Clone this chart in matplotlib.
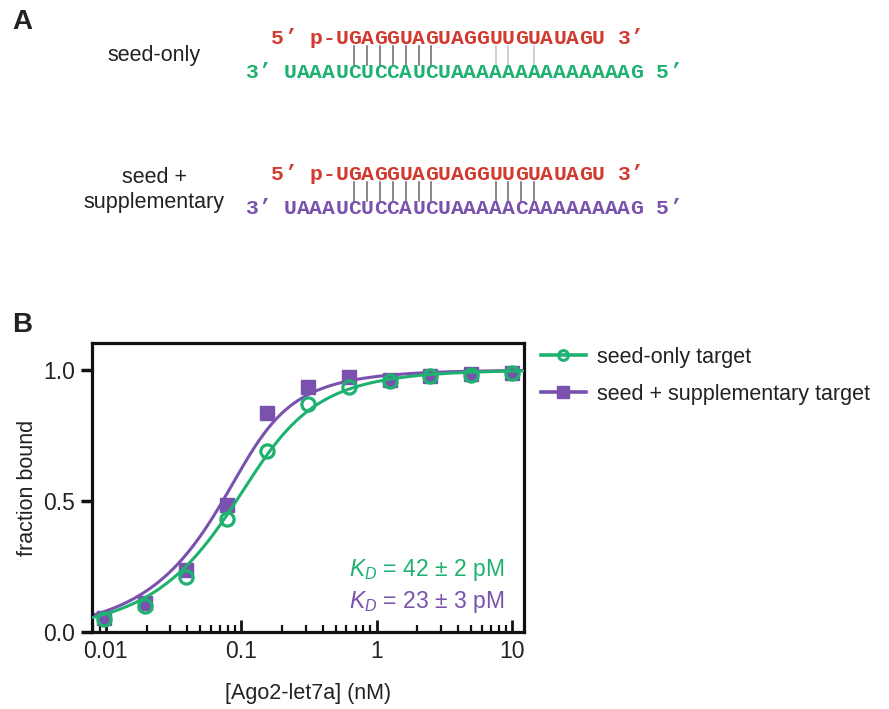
import numpy as np
import matplotlib
matplotlib.use("Agg")
import matplotlib.pyplot as plt
from matplotlib.lines import Line2D

plt.rcParams['font.family'] = ['Liberation Sans', 'DejaVu Sans']
plt.rcParams['mathtext.fontset'] = 'custom'
plt.rcParams['mathtext.rm'] = 'Liberation Sans'
plt.rcParams['mathtext.it'] = 'Liberation Sans:italic'

# ---------------- data ----------------
guide_5p = "5’ p-"
guide_seq = "UGAGGUAGUAGGUUGUAUAGU"
guide_3p = " 3’"
target_seed_only = "UAAAUCUCCAUCUAAAAAAAAAAAAAAG"
target_seed_supp = "UAAAUCUCCAUCUAAAAACAAAAAAAAG"
pairs_seed_only_strong = [2, 3, 4, 5, 6, 7, 8]
pairs_seed_only_weak = [13, 14, 16]
pairs_seed_supp_strong = [2, 3, 4, 5, 6, 7, 8, 13, 14, 15, 16]
row_labels = ["seed-only", "seed +\nsupplementary"]

conc_nM = [0.00977, 0.0195, 0.039, 0.078, 0.156, 0.3125, 0.625, 1.25, 2.5, 5.0, 10.0]
frac_seed_only = [0.05, 0.10, 0.21, 0.43, 0.69, 0.87, 0.935, 0.958, 0.977, 0.981, 0.99]
frac_seed_supp = [0.055, 0.11, 0.237, 0.485, 0.835, 0.935, 0.973, 0.96, 0.977, 0.983, 0.99]
kd_seed_only_nM = 0.042
kd_seed_supp_nM = 0.023
target_conc_nM = 0.1
kd_labels = [r"$K_D$ = 42 ± 2 pM", r"$K_D$ = 23 ± 3 pM"]
series_names = ["seed-only target", "seed + supplementary target"]
xtick_vals = [0.01, 0.1, 1, 10]
xtick_labels = ["0.01", "0.1", "1", "10"]
ytick_vals = [0.0, 0.5, 1.0]
ytick_labels = ["0.0", "0.5", "1.0"]

GREEN = "#1fb170"
PURPLE = "#7a52ae"
RED = "#d23a30"
TXT = "#222222"

W, H = 889, 709
fig = plt.figure(figsize=(W / 100, H / 100), dpi=100)

def fx(px):
    return px / W

def fy(py):
    return 1 - py / H

# ---------------- panel A ----------------
fig.text(fx(12), fy(22), "A", fontsize=20, fontweight="bold", color=TXT, va="center", ha="left")
fig.text(fx(12), fy(325), "B", fontsize=20, fontweight="bold", color=TXT, va="center", ha="left")

fs_seq = 15.4
cw = 0.6 * fs_seq * 100 / 72  # monospace cell width in px
x0 = 271  # left of first guide cell

def draw_string(s, xleft, ypx, color, weight="bold"):
    for i, ch in enumerate(s):
        if ch == " ":
            continue
        fig.text(fx(xleft + (i + 0.5) * cw), fy(ypx), ch, fontsize=fs_seq,
                 family="Liberation Mono", fontweight=weight, color=color,
                 ha="center", va="center")

def draw_pairs(pos_list, ypx, color):
    for g in pos_list:
        col = len(guide_5p) + g - 1
        xc = x0 + (col + 0.5) * cw
        fig.add_artist(Line2D([fx(xc), fx(xc)], [fy(ypx - 9.5), fy(ypx + 9.5)],
                              transform=fig.transFigure, color=color, lw=1.1))

guide_full = guide_5p + guide_seq + guide_3p
rows = [
    (38, 72, target_seed_only, GREEN, pairs_seed_only_strong, pairs_seed_only_weak, 55),
    (174, 208, target_seed_supp, PURPLE, pairs_seed_supp_strong, [], 190),
]
for (yg, yt, tseq, tcol, strong, weak, ylab), lab in zip(rows, row_labels):
    draw_string(guide_full, x0, yg, RED)
    draw_string("3’ " + tseq + " 5’", x0 - 2 * cw, yt, tcol)
    draw_pairs(strong, (yg + yt) / 2 + 0.5, "#666666")
    draw_pairs(weak, (yg + yt) / 2 + 0.5, "#c4c4c4")
    fig.text(fx(154), fy(ylab), lab, fontsize=15.5, color=TXT, ha="center", va="center",
             multialignment="center", linespacing=1.2)

# ---------------- panel B ----------------
ax = fig.add_axes([fx(92), fy(632), (524 - 92) / W, (632 - 343) / H])
ax.set_xscale("log")
ax.set_xlim(0.0079, 12.3)
ax.set_ylim(0, 1.103)

def quad_bound(e, kd, t):
    e = np.asarray(e)
    s = e + t + kd
    return (s - np.sqrt(s * s - 4 * e * t)) / (2 * t)

xf = np.logspace(np.log10(0.0079), np.log10(12.3), 400)
ax.plot(xf, quad_bound(xf, kd_seed_supp_nM, target_conc_nM), color=PURPLE, lw=2.2, zorder=2)
ax.plot(conc_nM, frac_seed_supp, ls="none", marker="s", ms=10.5, mfc=PURPLE, mec=PURPLE, zorder=3)
ax.plot(xf, quad_bound(xf, kd_seed_only_nM, target_conc_nM), color=GREEN, lw=2.2, zorder=4)
ax.plot(conc_nM, frac_seed_only, ls="none", marker="o", ms=9.5, mfc="none", mec=GREEN, mew=2.3, zorder=5)

for sp in ax.spines.values():
    sp.set_linewidth(2.3)
    sp.set_color("#111111")

ax.set_xticks(xtick_vals)
ax.set_xticklabels(xtick_labels)
ax.set_yticks(ytick_vals)
ax.set_yticklabels(ytick_labels)
ax.xaxis.set_minor_locator(matplotlib.ticker.LogLocator(base=10, subs=np.arange(2, 10)))
ax.xaxis.set_minor_formatter(matplotlib.ticker.NullFormatter())
ax.tick_params(axis="x", which="major", direction="in", length=9, width=2, pad=6,
               labelsize=16.5, labelcolor=TXT, color="#111111")
ax.tick_params(axis="x", which="minor", direction="in", length=5, width=1.6, color="#111111")
ax.tick_params(axis="y", which="major", direction="out", length=8, width=2.5, pad=4,
               labelsize=16.5, labelcolor=TXT, color="#111111")
ax.set_xlabel("[Ago2-let7a] (nM)", fontsize=15.5, color=TXT, labelpad=14)
ax.set_ylabel("fraction bound", fontsize=15.5, color=TXT, labelpad=4)

ax.text(0.955, 0.215, kd_labels[0], transform=ax.transAxes, ha="right", va="center",
        fontsize=16.5, color=GREEN)
ax.text(0.955, 0.105, kd_labels[1], transform=ax.transAxes, ha="right", va="center",
        fontsize=16.5, color=PURPLE)

handles = [
    Line2D([], [], color=GREEN, lw=2.6, marker="o", ms=7, mfc="none", mec=GREEN, mew=2.2),
    Line2D([], [], color=PURPLE, lw=2.6, marker="s", ms=9, mfc=PURPLE, mec=PURPLE),
]
fig.legend(handles, series_names, loc="upper left", bbox_to_anchor=(fx(532), fy(338)),
           frameon=False, fontsize=15.5, handlelength=2.1, handletextpad=0.5,
           labelspacing=0.75, borderaxespad=0, labelcolor=TXT)

fig.savefig("out.png", dpi=100)
